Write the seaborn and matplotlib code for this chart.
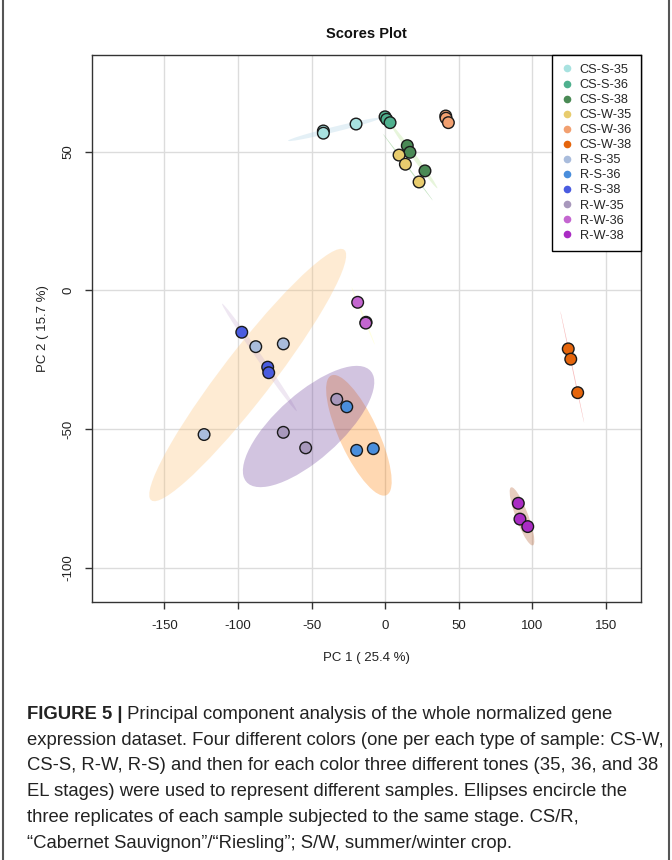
import numpy as np
import pandas as pd
import matplotlib
matplotlib.use("Agg")
import matplotlib.pyplot as plt
import seaborn as sns
from matplotlib.patches import Ellipse
from matplotlib.lines import Line2D

# ---------------- data ----------------
groups = ["CS-S-35", "CS-S-36", "CS-S-38", "CS-W-35", "CS-W-36", "CS-W-38",
          "R-S-35", "R-S-36", "R-S-38", "R-W-35", "R-W-36", "R-W-38"]

sample_group = [g for g in groups for _ in range(3)]

pc1 = [-42.0, -42.0, -19.8,
       -0.1, 1.0, 3.3,
       15.0, 16.8, 27.0,
       9.4, 13.7, 23.0,
       41.1, 41.3, 42.9,
       124.3, 126.0, 130.7,
       -87.9, -69.2, -123.0,
       -26.1, -19.4, -8.1,
       -97.4, -79.8, -79.1,
       -32.9, -69.2, -54.0,
       -18.7, -13.0, -13.2,
       90.4, 91.5, 96.8]

pc2 = [57.5, 56.7, 60.0,
       62.6, 61.7, 60.5,
       52.2, 49.8, 43.1,
       48.8, 45.5, 39.1,
       62.9, 62.1, 60.5,
       -21.1, -24.8, -36.9,
       -20.3, -19.3, -52.0,
       -42.0, -57.7, -57.1,
       -15.1, -27.7, -29.7,
       -39.3, -51.2, -56.8,
       -4.3, -11.5, -11.8,
       -76.8, -82.5, -85.2]

point_colors = ["#a8e2e0", "#4fb08e", "#4a8a55", "#e8cc6e", "#f2a070", "#e5650c",
                "#a9bcdc", "#4a8edc", "#4a5ce0", "#a898bc", "#c466d0", "#aa2cc4"]

ellipse_colors = sns.color_palette("Paired", 12)

x_ticks = [-150, -100, -50, 0, 50, 100, 150]
y_ticks = [-100, -50, 0, 50]

title = "Scores Plot"
x_label = "PC 1 ( 25.4 %)"
y_label = "PC 2 ( 15.7 %)"

caption_bold = "FIGURE 5 |"
caption_lines = [
    " Principal component analysis of the whole normalized gene",
    "expression dataset. Four different colors (one per each type of sample: CS-W,",
    "CS-S, R-W, R-S) and then for each color three different tones (35, 36, and 38",
    "EL stages) were used to represent different samples. Ellipses encircle the",
    "three replicates of each sample subjected to the same stage. CS/R,",
    "\u201cCabernet Sauvignon\u201d/\u201cRiesling\u201d; S/W, summer/winter crop.",
]

df = pd.DataFrame({"group": sample_group, "PC1": pc1, "PC2": pc2})

# ---------------- style ----------------
sns.set_style("white")
plt.rcParams["font.family"] = ["Liberation Sans", "DejaVu Sans"]

W, H = 672, 860
fig = plt.figure(figsize=(W / 100, H / 100), dpi=100)

ax_l, ax_r, ax_t, ax_b = 92.3, 641.0, 55.0, 602.0
ax = fig.add_axes([ax_l / W, 1 - ax_b / H, (ax_r - ax_l) / W, (ax_b - ax_t) / H])

ax.set_xlim(-198.9, 173.7)
ax.set_ylim(-112.4, 84.9)

# grid
for xt in x_ticks:
    ax.axvline(xt, color="#dcdcdc", lw=1.0, zorder=0)
for yt in y_ticks:
    ax.axhline(yt, color="#dcdcdc", lw=1.0, zorder=0)

# 95% confidence ellipses
chi2_95 = 5.991
for g, ec in zip(groups, ellipse_colors):
    sub = df[df["group"] == g]
    pts = sub[["PC1", "PC2"]].to_numpy()
    mu = pts.mean(axis=0)
    cov = np.cov(pts.T)
    vals, vecs = np.linalg.eigh(cov)
    vals = np.clip(vals, 0, None)
    order = vals.argsort()[::-1]
    vals, vecs = vals[order], vecs[:, order]
    angle = np.degrees(np.arctan2(vecs[1, 0], vecs[0, 0]))
    w = 2 * np.sqrt(vals[0] * chi2_95)
    h = 2 * np.sqrt(vals[1] * chi2_95)
    ax.add_patch(Ellipse(mu, w, h, angle=angle, facecolor=ec, alpha=0.3,
                         edgecolor="none", zorder=1))

sns.scatterplot(data=df, x="PC1", y="PC2", hue="group", hue_order=groups,
                palette=point_colors, s=70, edgecolor="#1a1a1a", linewidth=1.0,
                legend=False, ax=ax, zorder=3)

ax.set_xticks(x_ticks)
ax.set_yticks(y_ticks)
ax.set_xticklabels([str(v) for v in x_ticks])
ax.set_yticklabels([str(v) for v in y_ticks], rotation=90, va="center")
ax.tick_params(axis="both", direction="out", length=5, width=1, colors="#333333",
               labelsize=9.5, labelcolor="#222222", bottom=True, left=True)
ax.tick_params(axis="x", pad=8)
ax.tick_params(axis="y", pad=8)
for sp in ax.spines.values():
    sp.set_color("#333333")
    sp.set_linewidth(1.0)

ax.set_xlabel("")
ax.set_ylabel("")
fig.text((ax_l + ax_r) / 2 / W, 1 - 658 / H, x_label, ha="center", va="center",
         fontsize=9.5, color="#222222")
fig.text(43 / W, 1 - ((ax_t + ax_b) / 2) / H, y_label, ha="center", va="center",
         rotation=90, fontsize=9.5, color="#222222")
fig.text((ax_l + ax_r) / 2 / W, 1 - 33.5 / H, title, ha="center", va="center",
         fontsize=10.5, fontweight="bold", color="#111111")

handles = [Line2D([], [], marker="o", ls="", color=c, markersize=5.5,
                  markeredgewidth=0) for c in point_colors]
leg = ax.legend(handles, groups, loc="upper right", bbox_to_anchor=(1, 1),
                borderaxespad=0, frameon=True, fancybox=False, edgecolor="black",
                framealpha=1, fontsize=9.2, handletextpad=0.5, labelspacing=0.24,
                borderpad=0.7, handlelength=1.0)
leg.get_frame().set_linewidth(1.0)
leg.set_zorder(5)

# caption
cap_family = ["Liberation Sans", "DejaVu Sans"]
cap_size = 13.3
cap_x = 27 / W
base0 = 719
step = 25.7
t0 = fig.text(cap_x, 1 - base0 / H, caption_bold, ha="left", va="baseline",
              fontsize=cap_size, fontweight="bold", family=cap_family, color="#222222")
fig.canvas.draw()
bb = t0.get_window_extent()
fig.text(bb.x1 / W, 1 - base0 / H, caption_lines[0], ha="left", va="baseline",
         fontsize=cap_size, family=cap_family, color="#222222")
for i, line in enumerate(caption_lines[1:], start=1):
    fig.text(cap_x, 1 - (base0 + i * step) / H, line, ha="left", va="baseline",
             fontsize=cap_size, family=cap_family, color="#222222")

# outer frame lines
fig.add_artist(Line2D([3 / W, 3 / W], [0, 1], color="#555555", lw=1.5))
fig.add_artist(Line2D([669 / W, 669 / W], [0, 1], color="#555555", lw=1.5))

fig.savefig("out.png", dpi=100)
